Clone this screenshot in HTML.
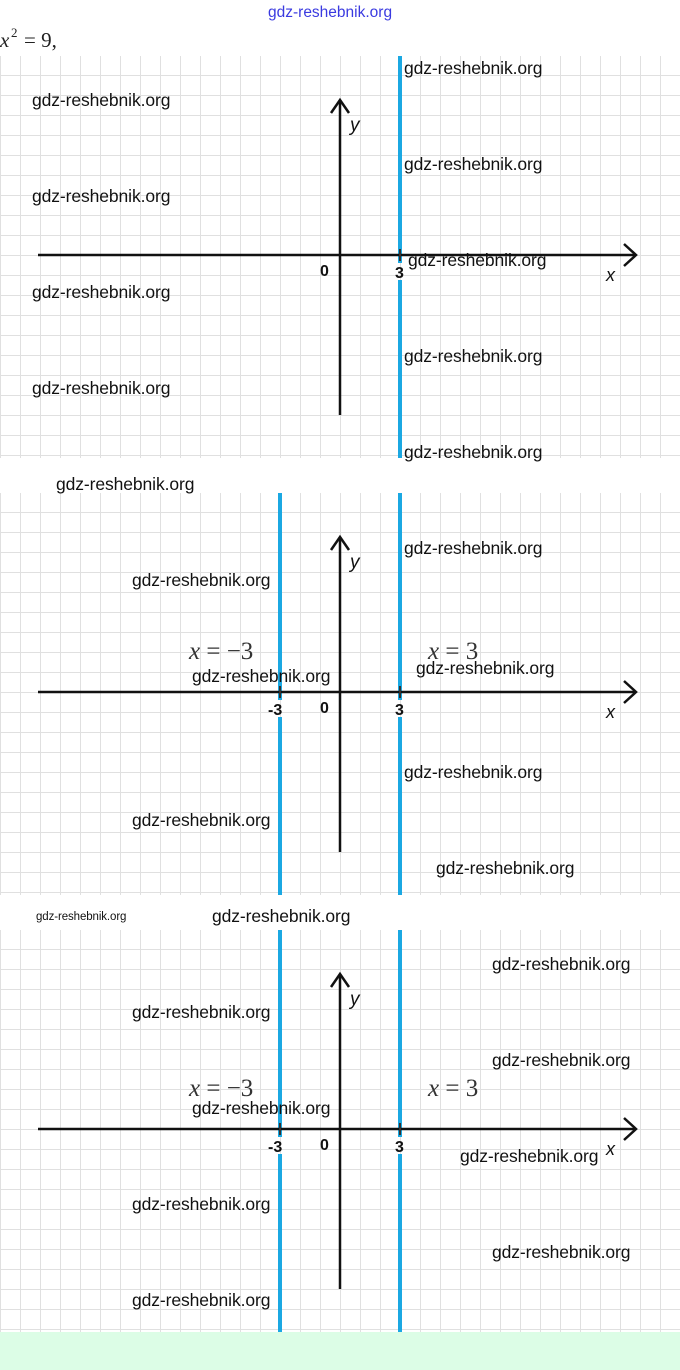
<!DOCTYPE html>
<html><head><meta charset="utf-8"><style>
body{margin:0;width:680px;height:1370px;background:#fff;position:relative;overflow:hidden;font-family:"Liberation Sans",sans-serif}
.w{position:absolute;font-size:17.5px;color:#111;white-space:nowrap;line-height:1;letter-spacing:-0.1px}
</style></head><body>
<svg width="680" height="1370" style="position:absolute;left:0;top:0">
<defs>
<pattern id="g" width="20" height="20" patternUnits="userSpaceOnUse" x="0" y="19">
<path d="M0 0H20M0 0V20" stroke="#e0e0e0" stroke-width="2" fill="none"/>
</pattern>
</defs>
<rect x="0" y="1332" width="680" height="38" fill="#dcfde6"/>
<text x="268" y="17" font-family="Liberation Sans" font-size="15.5" fill="#3a3ae0">gdz-reshebnik.org</text>
<text x="0" y="47" font-family="Liberation Serif" font-style="italic" font-size="21" fill="#222">x</text>
<text x="11" y="37" font-family="Liberation Serif" font-size="13" fill="#222">2</text>
<text x="24" y="47" font-family="Liberation Serif" font-size="21" fill="#222">= 9,</text>

<g transform="translate(0,56)">
<rect width="680" height="402" fill="url(#g)"/>
<path d="M400 0V207M400 224V402" stroke="#1ba8e2" stroke-width="4"/>
<path d="M340 44V359M38 199H636" stroke="#111" stroke-width="2.5" fill="none"/>
<path d="M331 57L340 44L349 57M624 188L636 199L624 210" stroke="#111" stroke-width="2.5" fill="none"/>
<path d="M400 193V205" stroke="#333" stroke-width="2"/>
<text x="350" y="75" font-size="19" font-style="italic" fill="#111">y</text>
<text x="606" y="225" font-size="18" font-style="italic" fill="#111">x</text>
<text x="320" y="220" font-size="16" font-weight="bold" fill="#111">0</text>
<text x="395" y="222" font-size="16" font-weight="bold" fill="#111">3</text>
</g>

<g transform="translate(0,493)">
<rect width="680" height="402" fill="url(#g)"/>
<path d="M400 0V207M400 224V402M280 0V207M280 224V402" stroke="#1ba8e2" stroke-width="4"/>
<path d="M340 44V359M38 199H636" stroke="#111" stroke-width="2.5" fill="none"/>
<path d="M331 57L340 44L349 57M624 188L636 199L624 210" stroke="#111" stroke-width="2.5" fill="none"/>
<path d="M400 193V205M280 193V205" stroke="#333" stroke-width="2"/>
<text x="350" y="75" font-size="19" font-style="italic" fill="#111">y</text>
<text x="606" y="225" font-size="18" font-style="italic" fill="#111">x</text>
<text x="320" y="220" font-size="16" font-weight="bold" fill="#111">0</text>
<text x="395" y="222" font-size="16" font-weight="bold" fill="#111">3</text>
<text x="268" y="222" font-size="16" font-weight="bold" fill="#111">-3</text>
<text x="189" y="166" font-family="Liberation Serif" font-size="25" fill="#333"><tspan font-style="italic">x</tspan> = −3</text>
<text x="428" y="166" font-family="Liberation Serif" font-size="25" fill="#333"><tspan font-style="italic">x</tspan> = 3</text>
</g>

<g transform="translate(0,930)">
<rect width="680" height="402" fill="url(#g)"/>
<path d="M400 0V207M400 224V402M280 0V207M280 224V402" stroke="#1ba8e2" stroke-width="4"/>
<path d="M340 44V359M38 199H636" stroke="#111" stroke-width="2.5" fill="none"/>
<path d="M331 57L340 44L349 57M624 188L636 199L624 210" stroke="#111" stroke-width="2.5" fill="none"/>
<path d="M400 193V205M280 193V205" stroke="#333" stroke-width="2"/>
<text x="350" y="75" font-size="19" font-style="italic" fill="#111">y</text>
<text x="606" y="225" font-size="18" font-style="italic" fill="#111">x</text>
<text x="320" y="220" font-size="16" font-weight="bold" fill="#111">0</text>
<text x="395" y="222" font-size="16" font-weight="bold" fill="#111">3</text>
<text x="268" y="222" font-size="16" font-weight="bold" fill="#111">-3</text>
<text x="189" y="166" font-family="Liberation Serif" font-size="25" fill="#333"><tspan font-style="italic">x</tspan> = −3</text>
<text x="428" y="166" font-family="Liberation Serif" font-size="25" fill="#333"><tspan font-style="italic">x</tspan> = 3</text>
</g>
</svg>

<div class="w" style="left:404px;top:60px">gdz-reshebnik.org</div>
<div class="w" style="left:32px;top:92px">gdz-reshebnik.org</div>
<div class="w" style="left:404px;top:156px">gdz-reshebnik.org</div>
<div class="w" style="left:32px;top:188px">gdz-reshebnik.org</div>
<div class="w" style="left:408px;top:252px">gdz-reshebnik.org</div>
<div class="w" style="left:32px;top:284px">gdz-reshebnik.org</div>
<div class="w" style="left:404px;top:348px">gdz-reshebnik.org</div>
<div class="w" style="left:32px;top:380px">gdz-reshebnik.org</div>
<div class="w" style="left:404px;top:444px">gdz-reshebnik.org</div>
<div class="w" style="left:56px;top:476px">gdz-reshebnik.org</div>
<div class="w" style="left:404px;top:540px">gdz-reshebnik.org</div>
<div class="w" style="left:132px;top:572px">gdz-reshebnik.org</div>
<div class="w" style="left:416px;top:660px">gdz-reshebnik.org</div>
<div class="w" style="left:192px;top:668px">gdz-reshebnik.org</div>
<div class="w" style="left:404px;top:764px">gdz-reshebnik.org</div>
<div class="w" style="left:132px;top:812px">gdz-reshebnik.org</div>
<div class="w" style="left:436px;top:860px">gdz-reshebnik.org</div>
<div class="w" style="left:36px;top:912px;font-size:11.5px">gdz-reshebnik.org</div>
<div class="w" style="left:212px;top:908px">gdz-reshebnik.org</div>
<div class="w" style="left:492px;top:956px">gdz-reshebnik.org</div>
<div class="w" style="left:132px;top:1004px">gdz-reshebnik.org</div>
<div class="w" style="left:492px;top:1052px">gdz-reshebnik.org</div>
<div class="w" style="left:192px;top:1100px">gdz-reshebnik.org</div>
<div class="w" style="left:460px;top:1148px">gdz-reshebnik.org</div>
<div class="w" style="left:132px;top:1196px">gdz-reshebnik.org</div>
<div class="w" style="left:492px;top:1244px">gdz-reshebnik.org</div>
<div class="w" style="left:132px;top:1292px">gdz-reshebnik.org</div>
</body></html>
